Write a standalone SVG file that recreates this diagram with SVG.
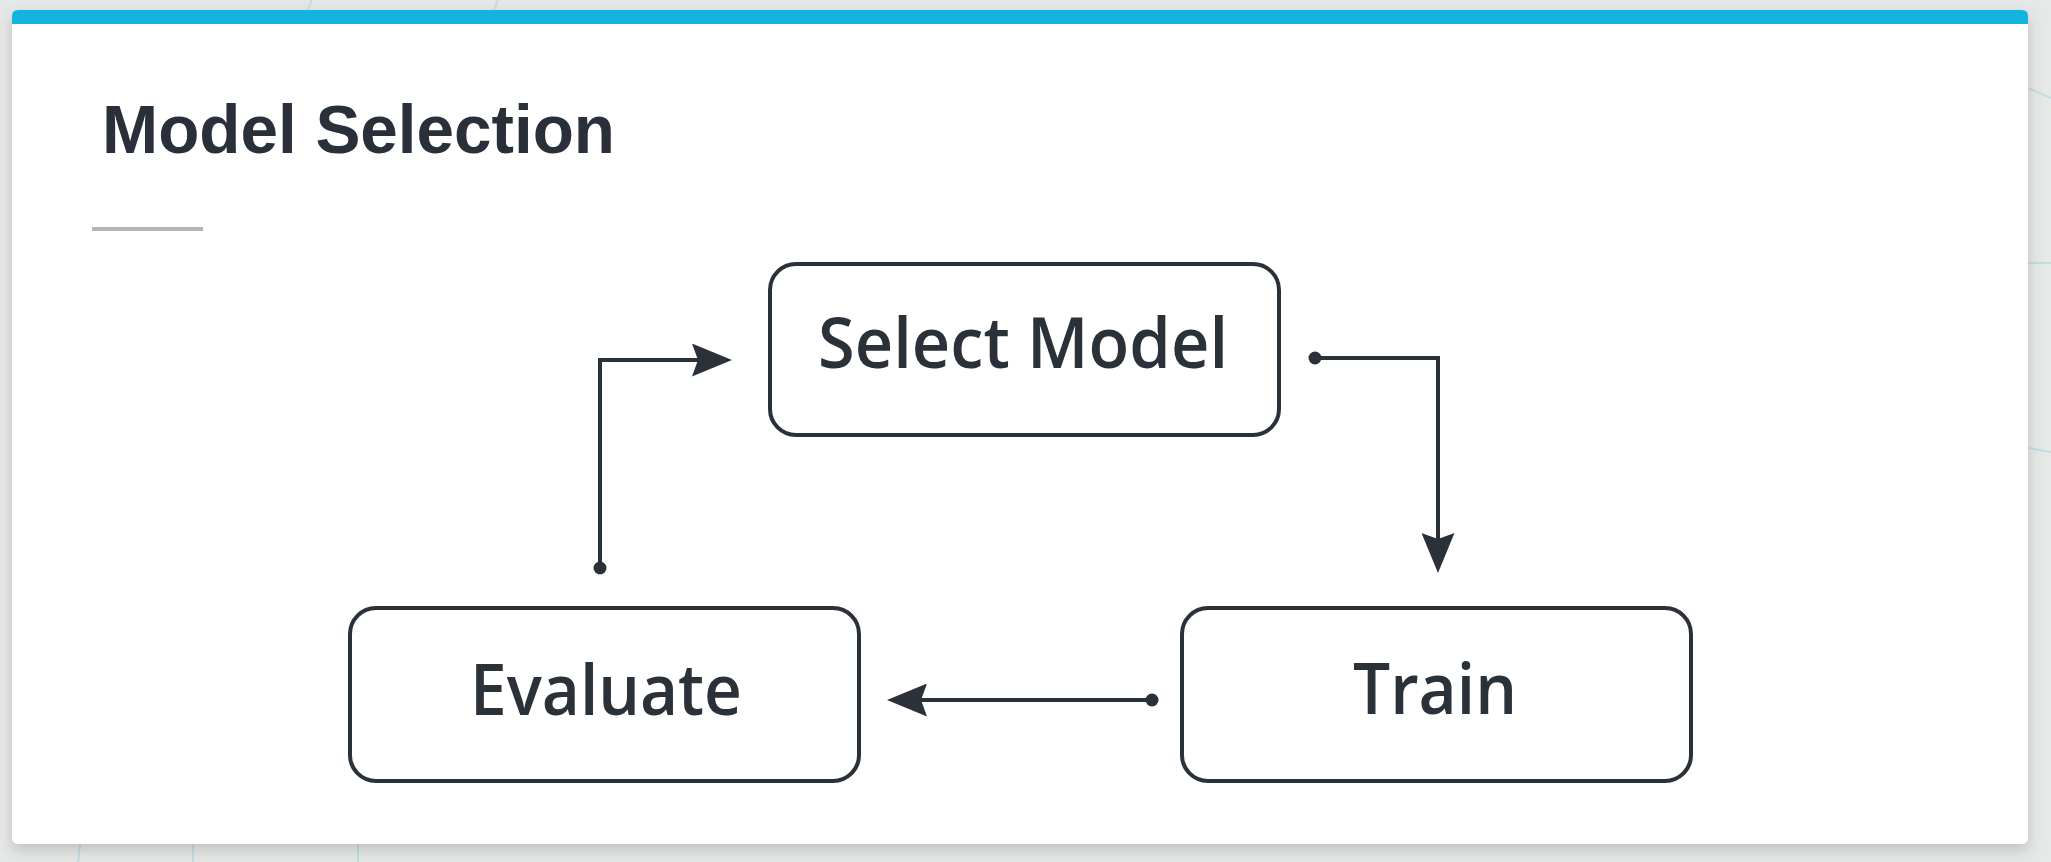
<svg xmlns="http://www.w3.org/2000/svg" width="2051" height="862" viewBox="0 0 2051 862">
  <defs>
    <style>
      .node rect { fill: #ffffff; stroke: #2b3139; stroke-width: 4; }
      .node text { font-family: "Open Sans", "Noto Sans", sans-serif; font-weight: 600; font-size: 70px; fill: #2b3139; text-anchor: middle; }
      .conn { fill: none; stroke: #2b3139; stroke-width: 4; }
      .dot { fill: #2b3139; }
      .bgline { fill: none; stroke: #bfe0e3; stroke-width: 2; }
    </style>
    <marker id="arrow" viewBox="0 0 40 33" refX="10" refY="16.5" markerWidth="40" markerHeight="33" markerUnits="userSpaceOnUse" orient="auto">
      <path d="M0,0 L40,16.5 L0,33 L6,16.5 Z" fill="#2b3139"/>
    </marker>
    <filter id="shadow" x="-5%" y="-5%" width="110%" height="115%">
      <feDropShadow dx="0" dy="6" stdDeviation="8" flood-color="#000000" flood-opacity="0.18"/>
    </filter>
  </defs>

  <rect x="0" y="0" width="2051" height="862" fill="#e7e8e8"/>
  <g id="background-lines">
    <path class="bgline" d="M2028,88 L2051,98"/>
    <path class="bgline" d="M2028,263 L2051,263"/>
    <path class="bgline" d="M2028,448 L2051,452"/>
    <path class="bgline" d="M80,844 L78,862"/>
    <path class="bgline" d="M193,844 L193,862"/>
    <path class="bgline" d="M358,844 L358,862"/>
    <path class="bgline" d="M312,0 L308,10"/>
    <path class="bgline" d="M498,0 L494,10"/>
  </g>

  <g id="card">
    <rect x="12" y="10" width="2016" height="834" rx="6" fill="#ffffff" filter="url(#shadow)"/>
    <path d="M12,24 L12,16 Q12,10 18,10 L2022,10 Q2028,10 2028,16 L2028,24 Z" fill="#12b4dd"/>
  </g>

  <g id="title">
    <text x="102" y="153" font-family="Liberation Sans, Arial, sans-serif" font-weight="bold" font-size="68" fill="#2a3039" textLength="513" lengthAdjust="spacingAndGlyphs">Model Selection</text>
    <rect x="92" y="227" width="111" height="4" fill="#b4b4b4"/>
  </g>

  <g id="connectors">
    <path class="conn" d="M1315,358 L1438,358 L1438,543" marker-end="url(#arrow)"/>
    <circle class="dot" cx="1315" cy="358" r="6.5"/>
    <path class="conn" d="M1152,700 L917,700" marker-end="url(#arrow)"/>
    <circle class="dot" cx="1152" cy="700" r="6.5"/>
    <path class="conn" d="M600,568 L600,360 L702,360" marker-end="url(#arrow)"/>
    <circle class="dot" cx="600" cy="568" r="6.5"/>
  </g>

  <g id="node-select-model" class="node">
    <rect x="770" y="264" width="509" height="171" rx="26"/>
    <text x="1023" y="368" textLength="410" lengthAdjust="spacingAndGlyphs">Select Model</text>
  </g>

  <g id="node-train" class="node">
    <rect x="1182" y="608" width="509" height="173" rx="26"/>
    <text x="1435" y="714" textLength="164" lengthAdjust="spacingAndGlyphs">Train</text>
  </g>

  <g id="node-evaluate" class="node">
    <rect x="350" y="608" width="509" height="173" rx="26"/>
    <text x="606" y="715" textLength="272" lengthAdjust="spacingAndGlyphs">Evaluate</text>
  </g>
</svg>
